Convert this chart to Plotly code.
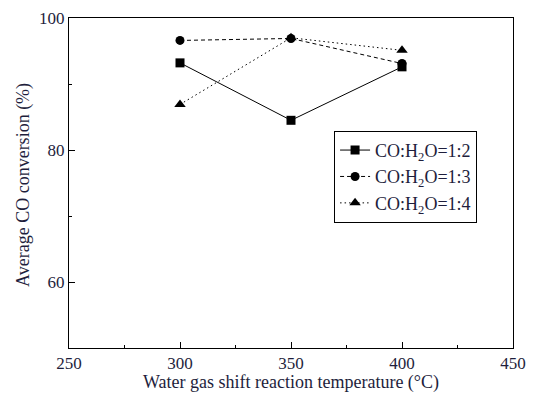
import plotly.graph_objects as go

temps = [300, 350, 400]
ratio_12 = [93.2, 84.5, 92.6]
ratio_13 = [96.6, 96.9, 93.1]
ratio_14 = [86.9, 97.0, 95.1]
names = ["CO:H<sub>2</sub>O=1:2", "CO:H<sub>2</sub>O=1:3", "CO:H<sub>2</sub>O=1:4"]
x_ticks = [250, 300, 350, 400, 450]
y_ticks = [60, 80, 100]
x_title = "Water gas shift reaction temperature (\u00b0C)"
y_title = "Average CO conversion (%)"

font_family = "Liberation Serif"
txt_color = "#1e1e3c"
fig = go.Figure()
fig.add_trace(go.Scatter(x=temps, y=ratio_12, name=names[0], mode="lines+markers",
                         line=dict(color="black", width=1, dash="solid"),
                         marker=dict(symbol="square", size=9, color="black")))
fig.add_trace(go.Scatter(x=temps, y=ratio_13, name=names[1], mode="lines+markers",
                         line=dict(color="black", width=1, dash="4px,3px"),
                         marker=dict(symbol="circle", size=9, color="black")))
fig.add_trace(go.Scatter(x=temps, y=ratio_14, name=names[2], mode="lines+markers",
                         line=dict(color="black", width=1, dash="1.5px,3px"),
                         marker=dict(symbol="triangle-up", size=10, color="black")))

fig.update_layout(
    width=534, height=393,
    margin=dict(l=69, r=21, t=18, b=45),
    paper_bgcolor="white", plot_bgcolor="white",
    font=dict(family=font_family, size=17, color=txt_color),
    showlegend=True,
    legend=dict(x=0.597, y=0.658, xanchor="left", yanchor="top",
                bordercolor="black", borderwidth=1, bgcolor="white",
                font=dict(family=font_family, size=18, color=txt_color),
                tracegroupgap=0, itemwidth=30),
)
fig.add_annotation(text=y_title, xref="paper", yref="paper", x=0, y=0.494,
                   xanchor="center", yanchor="middle", xshift=-45, textangle=-90,
                   showarrow=False, font=dict(family=font_family, size=18, color=txt_color))
fig.update_xaxes(range=[250, 450], tickvals=x_ticks, ticks="inside", ticklen=6,
                 showline=True, linecolor="black", linewidth=1, mirror=True,
                 showgrid=False, zeroline=False, automargin=False,
                 minor=dict(dtick=25, ticks="inside", ticklen=3, tickcolor="black", showgrid=False),
                 tickcolor="black", tickfont=dict(size=17),
                 title=dict(text=x_title, font=dict(size=18, color=txt_color)))
fig.update_yaxes(range=[50, 100], tickvals=y_ticks, ticks="inside", ticklen=6,
                 showline=True, linecolor="black", linewidth=1, mirror=True,
                 showgrid=False, zeroline=False, automargin=False,
                 minor=dict(dtick=10, ticks="inside", ticklen=3, tickcolor="black", showgrid=False),
                 tickcolor="black", tickfont=dict(size=17))

fig.write_html("out.html")
